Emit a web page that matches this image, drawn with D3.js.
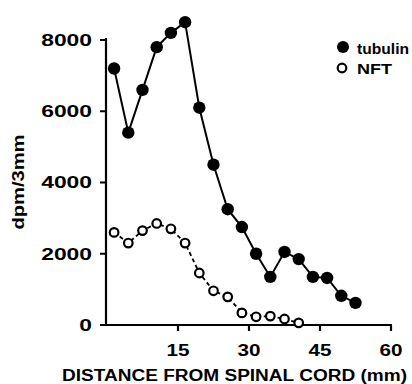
<!DOCTYPE html>
<html><head><meta charset="utf-8">
<script src="https://cdn.jsdelivr.net/npm/d3@7"></script>
<style>html,body{margin:0;padding:0;background:#fff;}svg{display:block;}</style>
</head><body>
<script>
const tubulinX = [1.5,4.5,7.5,10.5,13.5,16.5,19.5,22.5,25.5,28.5,31.5,34.5,37.5,40.5,43.5,46.5,49.5,52.5];
const tubulinY = [7200,5400,6600,7800,8200,8500,6100,4500,3250,2750,2000,1350,2050,1850,1350,1320,820,620];
const nftX = [1.5,4.5,7.5,10.5,13.5,16.5,19.5,22.5,25.5,28.5,31.5,34.5,37.5,40.5];
const nftY = [2600,2300,2650,2850,2700,2300,1460,960,790,340,230,250,170,60];
const xTicks = [15,30,45,60];
const yTicks = [0,2000,4000,6000,8000];
const legendLabels = ["tubulin","NFT"];

const W=412,H=384;
const svg=d3.select("body").append("svg").attr("width",W).attr("height",H);
const x=d3.scaleLinear().domain([0,60]).range([107,391]);
const y=d3.scaleLinear().domain([0,8000]).range([325,40]);
const font="'Liberation Sans', Arial, sans-serif";

// axis frame + ticks as one path built from the scales
const x0=106, y0=y(0);
let dPath=`M${x0},${y(8000)-2}V${y0}H392`;
xTicks.forEach(t=>{dPath+=`M${x(t)},${y0}V${y0+6}`;});
yTicks.forEach(t=>{dPath+=`M${x0-6},${y(t)}H${x0}`;});
svg.append("path").attr("d",dPath).attr("fill","none").attr("stroke","#000").attr("stroke-width",2.2);

// tick labels
svg.append("g").selectAll("text").data(xTicks).join("text")
  .attr("x",d=>x(d)).attr("y",y0+31).attr("text-anchor","middle")
  .attr("font-family",font).attr("font-weight","bold").attr("font-size",16)
  .attr("textLength",d=>String(d).length*11.5).attr("lengthAdjust","spacingAndGlyphs")
  .text(d=>d3.format("d")(d));
svg.append("g").selectAll("text").data(yTicks).join("text")
  .attr("x",92).attr("y",d=>y(d)).attr("dy","0.36em").attr("text-anchor","end")
  .attr("font-family",font).attr("font-weight","bold").attr("font-size",16)
  .attr("textLength",d=>String(d).length*12.7).attr("lengthAdjust","spacingAndGlyphs")
  .text(d=>d3.format("d")(d));

// titles
svg.append("text").attr("x",62).attr("y",381).attr("font-family",font).attr("font-weight","bold")
  .attr("font-size",16).attr("textLength",345).attr("lengthAdjust","spacingAndGlyphs")
  .text("DISTANCE  FROM  SPINAL  CORD  (mm)");
svg.append("text").attr("transform","translate(24,182) rotate(-90)").attr("text-anchor","middle")
  .attr("font-family",font).attr("font-weight","bold").attr("font-size",16)
  .attr("textLength",95).attr("lengthAdjust","spacingAndGlyphs").text("dpm/3mm");

// lines
const tub=tubulinX.map((d,i)=>[d,tubulinY[i]]);
const nft=nftX.map((d,i)=>[d,nftY[i]]);
const line=d3.line().x(d=>x(d[0])).y(d=>y(d[1]));
svg.append("path").attr("d",line(nft)).attr("fill","none").attr("stroke","#000")
  .attr("stroke-width",1.8).attr("stroke-dasharray","4,3");
svg.append("path").attr("d",line(tub)).attr("fill","none").attr("stroke","#000").attr("stroke-width",2);

svg.append("g").selectAll("circle").data(nft).join("circle")
  .attr("cx",d=>x(d[0])).attr("cy",d=>y(d[1])).attr("r",4.3)
  .attr("fill","#fff").attr("stroke","#000").attr("stroke-width",2.2);
svg.append("g").selectAll("circle").data(tub).join("circle")
  .attr("cx",d=>x(d[0])).attr("cy",d=>y(d[1])).attr("r",6.2).attr("fill","#000");

// legend
svg.append("circle").attr("cx",343).attr("cy",47).attr("r",6).attr("fill","#000");
svg.append("circle").attr("cx",342).attr("cy",68).attr("r",4.3).attr("fill","#fff")
  .attr("stroke","#000").attr("stroke-width",2.2);
svg.append("text").attr("x",357).attr("y",54).attr("font-family",font).attr("font-weight","bold")
  .attr("font-size",15).attr("textLength",52).attr("lengthAdjust","spacingAndGlyphs").text(legendLabels[0]);
svg.append("text").attr("x",357).attr("y",74).attr("font-family",font).attr("font-weight","bold")
  .attr("font-size",15).attr("textLength",35).attr("lengthAdjust","spacingAndGlyphs").text(legendLabels[1]);
</script>
</body></html>
